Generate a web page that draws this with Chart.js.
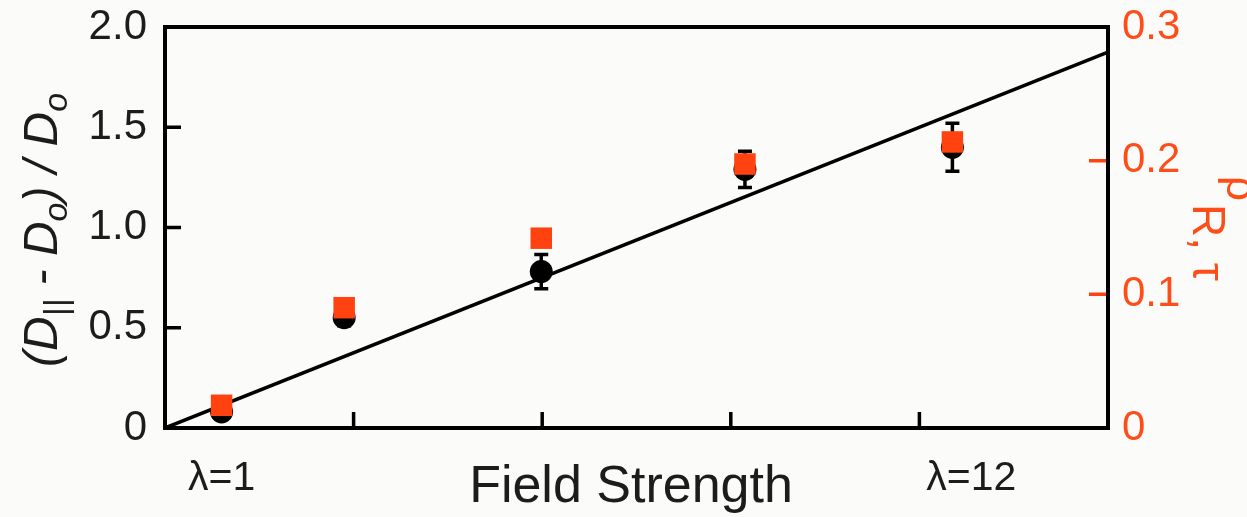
<!DOCTYPE html>
<html><head><meta charset="utf-8">
<script src="https://cdn.jsdelivr.net/npm/chart.js@4/dist/chart.umd.min.js"></script>
<style>html,body{margin:0;padding:0;background:#fbfcfa;} #wrap{width:1247px;height:517px;position:relative;}</style>
</head><body><div id="wrap"><canvas id="c"></canvas></div>
<script>
// ---- data ----
const fieldX = [6.0, 19.0, 39.9, 61.5, 83.5];
const diffusion = [0.08, 0.55, 0.78, 1.29, 1.40];
const diffusionErr = [0.02, 0.04, 0.085, 0.09, 0.12];
const rho = [0.017, 0.090, 0.142, 0.1975, 0.214];
const fitX = [0, 100];
const fitY = [0, 1.875];
const xLabelPos = [6, 85.5];
const xLabelText = ['λ=1', 'λ=12'];
const xTickMarks = [20, 40, 60, 80];
const leftTicks = [0, 0.5, 1.0, 1.5, 2.0];
const leftTickMarks = [0.5, 1.0, 1.5];
const rightTicks = [0, 0.1, 0.2, 0.3];
const rightTickMarks = [0.1, 0.2];

const RED = '#ff4210';
const REDTXT = '#ff4d1a';
const INK = '#1c1c1c';
const FONT = "'Liberation Sans', Arial, sans-serif";

function drawRich(ctx, segs, cx, cy, angle) {
  ctx.save();
  ctx.translate(cx, cy);
  ctx.rotate(angle);
  let total = 0;
  segs.forEach(s => { ctx.font = s.font; s.w = ctx.measureText(s.t).width; total += s.w; });
  let x = -total / 2;
  ctx.textBaseline = 'alphabetic';
  ctx.textAlign = 'left';
  segs.forEach(s => { ctx.font = s.font; ctx.fillStyle = s.color; ctx.fillText(s.t, x, s.dy || 0); x += s.w; });
  ctx.restore();
}

const decor = {
  id: 'decor',
  beforeDatasetDraw(chart, args) {
    if (args.index !== 2) return;
    const ctx = chart.ctx, xs = chart.scales.x, ys = chart.scales.yL;
    ctx.save();
    ctx.strokeStyle = '#000';
    ctx.lineWidth = 3.5;
    fieldX.forEach((xv, i) => {
      const px = xs.getPixelForValue(xv);
      const top = ys.getPixelForValue(diffusion[i] + diffusionErr[i]);
      const bot = ys.getPixelForValue(diffusion[i] - diffusionErr[i]);
      ctx.beginPath();
      ctx.moveTo(px, top); ctx.lineTo(px, bot);
      ctx.moveTo(px - 7, top); ctx.lineTo(px + 7, top);
      ctx.moveTo(px - 7, bot); ctx.lineTo(px + 7, bot);
      ctx.stroke();
    });
    ctx.restore();
  },
  afterDraw(chart) {
    const ctx = chart.ctx, a = chart.chartArea;
    const xs = chart.scales.x, yl = chart.scales.yL, yr = chart.scales.yR;
    ctx.save();
    // frame
    ctx.strokeStyle = '#000';
    ctx.lineWidth = 4;
    ctx.lineJoin = 'miter';
    ctx.strokeRect(a.left, a.top, a.right - a.left, a.bottom - a.top);
    // inner ticks
    ctx.lineWidth = 3.5;
    ctx.beginPath();
    xTickMarks.forEach(v => { const p = xs.getPixelForValue(v); ctx.moveTo(p, a.bottom); ctx.lineTo(p, a.bottom - 16); });
    leftTickMarks.forEach(v => { const p = yl.getPixelForValue(v); ctx.moveTo(a.left, p); ctx.lineTo(a.left + 16, p); });
    ctx.stroke();
    ctx.strokeStyle = RED;
    ctx.beginPath();
    rightTickMarks.forEach(v => { const p = yr.getPixelForValue(v); ctx.moveTo(a.right - 2, p); ctx.lineTo(a.right - 19, p); });
    ctx.stroke();
    // x title
    ctx.fillStyle = INK;
    ctx.font = '52px ' + FONT;
    ctx.textAlign = 'center';
    ctx.textBaseline = 'alphabetic';
    ctx.fillText('Field Strength', 631, 502);
    ctx.restore();
    // left title
    const it = 'italic 48px ' + FONT, its = 'italic 34px ' + FONT;
    drawRich(ctx, [
      {t: '(D', font: it, color: INK},
      {t: '||', font: its, color: INK, dy: 10},
      {t: ' - D', font: it, color: INK},
      {t: 'o', font: its, color: INK, dy: 10},
      {t: ') / D', font: it, color: INK},
      {t: 'o', font: its, color: INK, dy: 10}
    ], 57, 230, -Math.PI / 2);
    // right title
    ctx.save();
    ctx.translate(1227, 176);
    ctx.rotate(Math.PI / 2);
    ctx.fillStyle = REDTXT;
    ctx.textAlign = 'left';
    ctx.textBaseline = 'alphabetic';
    ctx.font = '44px ' + FONT;
    ctx.fillText('ρ', 0, 0);
    ctx.font = '46px ' + FONT;
    ctx.fillText('R, τ', 28, 34);
    ctx.restore();
  }
};

function noPad(s) { s.paddingTop = 0; s.paddingBottom = 0; s.paddingLeft = 0; s.paddingRight = 0; }

new Chart(document.getElementById('c'), {
  type: 'scatter',
  data: {
    datasets: [
      {
        type: 'line', label: 'fit', order: 3,
        data: fitX.map((x, i) => ({x, y: fitY[i]})),
        borderColor: '#000', borderWidth: 3.5, pointRadius: 0, yAxisID: 'yL', xAxisID: 'x'
      },
      {
        label: 'D', order: 2,
        data: fieldX.map((x, i) => ({x, y: diffusion[i]})),
        pointStyle: 'circle', pointRadius: 11.5, backgroundColor: '#000', borderWidth: 0,
        yAxisID: 'yL', xAxisID: 'x'
      },
      {
        label: 'rho', order: 1,
        data: fieldX.map((x, i) => ({x, y: rho[i]})),
        pointStyle: 'rect', pointRadius: 15.2, backgroundColor: RED, borderWidth: 0,
        yAxisID: 'yR', xAxisID: 'x'
      }
    ]
  },
  options: {
    responsive: true, maintainAspectRatio: false, animation: false,
    layout: {padding: {top: 27, left: 0, right: 0, bottom: 0}},
    plugins: {legend: {display: false}, tooltip: {enabled: false}},
    scales: {
      x: {
        type: 'linear', position: 'bottom', min: 0, max: 100,
        grid: {display: false, drawTicks: false}, border: {display: false},
        afterBuildTicks: s => { s.ticks = xLabelPos.map(v => ({value: v})); },
        afterFit: s => { s.height = 89; noPad(s); },
        ticks: {
          autoSkip: false, maxRotation: 0, padding: 26, color: INK,
          font: {family: FONT, size: 41},
          callback: v => xLabelText[xLabelPos.indexOf(v)]
        }
      },
      yL: {
        type: 'linear', position: 'left', min: 0, max: 2,
        grid: {display: false, drawTicks: false}, border: {display: false},
        afterBuildTicks: s => { s.ticks = leftTicks.map(v => ({value: v})); },
        afterFit: s => { s.width = 165; noPad(s); },
        ticks: {
          padding: 18, color: INK, font: {family: FONT, size: 42},
          callback: v => v === 0 ? '0' : v.toFixed(1)
        }
      },
      yR: {
        type: 'linear', position: 'right', min: 0, max: 0.3,
        grid: {display: false, drawTicks: false}, border: {display: false},
        afterBuildTicks: s => { s.ticks = rightTicks.map(v => ({value: v})); },
        afterFit: s => { s.width = 139; noPad(s); },
        ticks: {
          padding: 14, color: REDTXT, font: {family: FONT, size: 42},
          callback: v => v === 0 ? '0' : v.toFixed(1)
        }
      }
    }
  },
  plugins: [decor]
});
</script>
</body></html>
